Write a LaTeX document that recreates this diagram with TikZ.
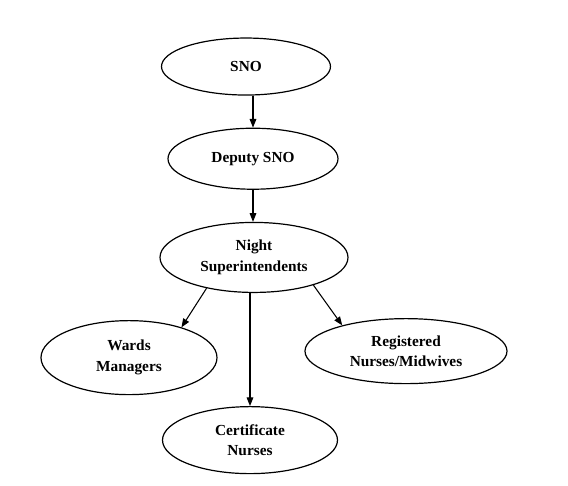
\documentclass[tikz,border=0pt]{standalone}
\usepackage{fontspec}
\setmainfont{Liberation Serif}
\usetikzlibrary{positioning,shapes.geometric,arrows.meta}

\begin{document}
\begin{tikzpicture}[
    staff/.style={ellipse, draw, line width=0.9pt, inner sep=0pt, align=center,
      font=\fontsize{11.5}{15.5}\selectfont\bfseries},
    link/.style={line width=0.8pt, -{Triangle[length=6.5pt,width=5pt]}}
  ]
  \useasboundingbox (-184.5pt,-313.9pt) rectangle (241.5pt,49.9pt);

  % Nodes
  \node[staff, minimum width=126.75pt, minimum height=42.75pt] (sno) {SNO};
  \node[staff, minimum width=127.5pt, minimum height=45.75pt, below = 24pt of sno, xshift=5.25pt] (deputy) {Deputy SNO};

  \node[staff, minimum width=141pt, minimum height=52.5pt, below = 24pt of deputy, xshift=0.75pt] (night) {Night\\Superintendents};

  \node[staff, minimum width=132pt, minimum height=55.5pt, below = 20.25pt of night, xshift=-93.75pt] (wards) {Wards\\Managers};
  \node[staff, minimum width=151.5pt, minimum height=48.75pt, below = 18.75pt of night, xshift=114pt] (reg) {Registered\\Nurses/Midwives};
  \node[staff, minimum width=131.25pt, minimum height=50.25pt, below = 84.75pt of night, xshift=-3pt] (cert) {Certificate\\Nurses};

  % Edges
  \draw[link] (sno.south -| deputy.north) -- (deputy.north);
  \draw[link] (deputy.south) -- (deputy.south |- night.north);

  \draw[link] (night.213) -- (wards.30);
  \draw[link] (night.335) -- (reg.158);
  \draw[link] (cert.north |- night.south) -- (cert.north);
\end{tikzpicture}
\end{document}
